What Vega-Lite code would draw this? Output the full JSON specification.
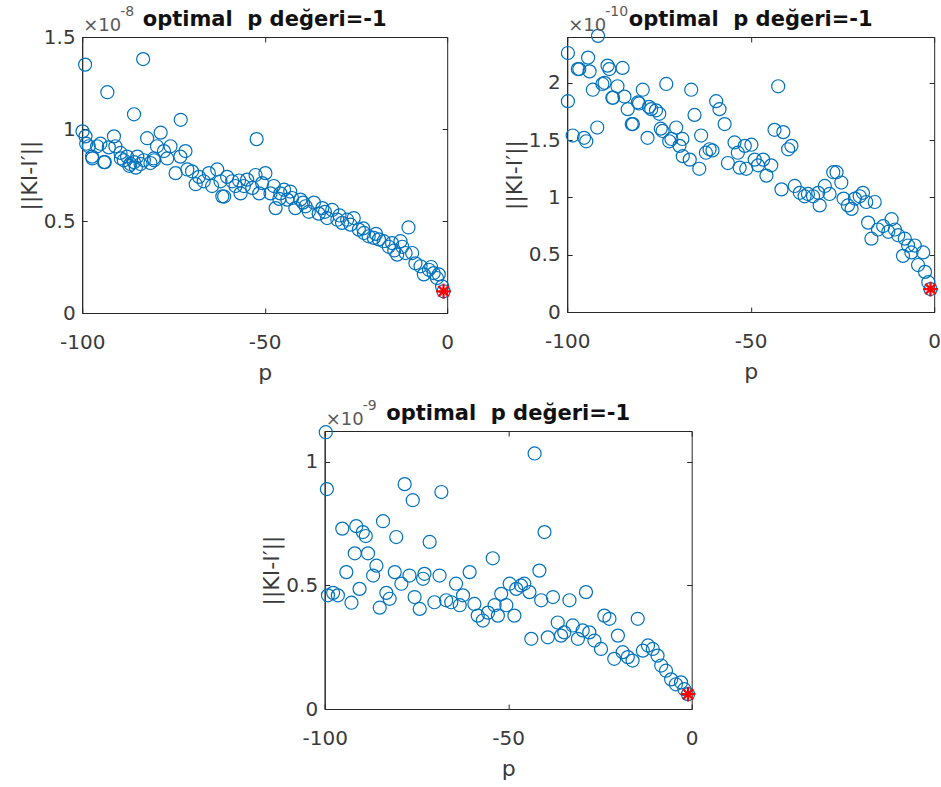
{
  "$schema": "https://vega.github.io/schema/vega-lite/v6.json",
  "background": "white",
  "padding": {"left": 17, "top": 4, "right": 4, "bottom": 0},
  "config": {
    "font": "DejaVu Sans",
    "view": {"stroke": "#262626", "strokeWidth": 1},
    "axis": {
      "grid": false,
      "domainColor": "#262626",
      "tickColor": "#262626",
      "tickSize": -5,
      "labelFlush": false,
      "labelFont": "DejaVu Sans",
      "labelFontSize": 20,
      "labelColor": "#3a3a3a",
      "labelExpr": "'' + datum.value",
      "titleFont": "DejaVu Sans",
      "titleFontSize": 22,
      "titleFontWeight": "normal",
      "titleColor": "#3a3a3a",
      "minExtent": 0
    },
    "axisX": {"labelPadding": 24, "titlePadding": 10},
    "axisY": {"labelPadding": 12, "titlePadding": 2}
  },
  "datasets": {
    "A": [
      {"p":-99.9,"v":0.987},{"p":-99.2,"v":1.35},{"p":-99.1,"v":0.96},{"p":-98.9,"v":0.92},{"p":-98.2,"v":0.906},{"p":-97.3,"v":0.85},{"p":-97.2,"v":0.84},{"p":-95.9,"v":0.906},{"p":-95,"v":0.92},{"p":-94,"v":0.82},{"p":-93.8,"v":0.82},{"p":-93.1,"v":1.2},{"p":-92.7,"v":0.9},{"p":-91.3,"v":0.96},{"p":-90.9,"v":0.906},{"p":-89.5,"v":0.87},{"p":-89.4,"v":0.84},{"p":-88.6,"v":0.83},{"p":-87.7,"v":0.85},{"p":-87.1,"v":0.8},{"p":-86.8,"v":0.81},{"p":-85.8,"v":0.82},{"p":-85.8,"v":1.08},{"p":-85.3,"v":0.79},{"p":-84.9,"v":0.85},{"p":-84,"v":0.81},{"p":-83.3,"v":1.38},{"p":-83.1,"v":0.83},{"p":-82.2,"v":0.95},{"p":-81.3,"v":0.815},{"p":-80.4,"v":0.84},{"p":-80.3,"v":0.83},{"p":-79.5,"v":0.906},{"p":-78.5,"v":0.98},{"p":-77.6,"v":0.88},{"p":-76.7,"v":0.84},{"p":-75.8,"v":0.906},{"p":-74.4,"v":0.76},{"p":-73.1,"v":0.85},{"p":-73,"v":1.05},{"p":-71.7,"v":0.88},{"p":-71.2,"v":0.78},{"p":-69.9,"v":0.77},{"p":-68.9,"v":0.7},{"p":-68,"v":0.74},{"p":-66.7,"v":0.716},{"p":-65.3,"v":0.76},{"p":-64.4,"v":0.69},{"p":-63,"v":0.78},{"p":-62.1,"v":0.716},{"p":-61.6,"v":0.634},{"p":-61.1,"v":0.633},{"p":-60.3,"v":0.74},{"p":-58.9,"v":0.716},{"p":-58,"v":0.69},{"p":-57,"v":0.72},{"p":-56.6,"v":0.65},{"p":-55.7,"v":0.69},{"p":-54.8,"v":0.725},{"p":-53.4,"v":0.68},{"p":-52.5,"v":0.75},{"p":-52.2,"v":0.945},{"p":-51.5,"v":0.65},{"p":-50.7,"v":0.706},{"p":-49.8,"v":0.76},{"p":-48.4,"v":0.65},{"p":-47.5,"v":0.69},{"p":-47,"v":0.57},{"p":-46,"v":0.62},{"p":-45.7,"v":0.65},{"p":-44.7,"v":0.67},{"p":-43.8,"v":0.616},{"p":-43,"v":0.66},{"p":-42.5,"v":0.625},{"p":-41.6,"v":0.57},{"p":-40.2,"v":0.616},{"p":-39.5,"v":0.6},{"p":-38.8,"v":0.58},{"p":-37.9,"v":0.55},{"p":-36.5,"v":0.6},{"p":-35.2,"v":0.54},{"p":-34.2,"v":0.57},{"p":-33.5,"v":0.55},{"p":-32.9,"v":0.516},{"p":-31.5,"v":0.56},{"p":-30.1,"v":0.507},{"p":-29.5,"v":0.53},{"p":-28.8,"v":0.49},{"p":-27.4,"v":0.507},{"p":-26.5,"v":0.48},{"p":-25.6,"v":0.516},{"p":-24.2,"v":0.453},{"p":-23,"v":0.46},{"p":-22.8,"v":0.435},{"p":-21.5,"v":0.417},{"p":-20.1,"v":0.408},{"p":-19.5,"v":0.43},{"p":-18.7,"v":0.4},{"p":-17.4,"v":0.39},{"p":-16,"v":0.36},{"p":-15.1,"v":0.38},{"p":-14.5,"v":0.34},{"p":-13.7,"v":0.317},{"p":-12.8,"v":0.39},{"p":-12.3,"v":0.36},{"p":-11.4,"v":0.326},{"p":-10.6,"v":0.465},{"p":-9.6,"v":0.326},{"p":-8.7,"v":0.27},{"p":-7.3,"v":0.254},{"p":-6.4,"v":0.21},{"p":-5,"v":0.235},{"p":-4.4,"v":0.25},{"p":-3.7,"v":0.217},{"p":-2.8,"v":0.19},{"p":-2.3,"v":0.21},{"p":-1.4,"v":0.145},{"p":-1,"v":0.118}
    ],
    "A_opt": [{"p":-1,"v":0.118}],
    "B": [
      {"p":-99.8,"v":2.26},{"p":-99.8,"v":1.84},{"p":-98.5,"v":1.54},{"p":-97.1,"v":2.12},{"p":-96.7,"v":2.12},{"p":-95.4,"v":1.52},{"p":-94.8,"v":1.49},{"p":-94.3,"v":2.22},{"p":-93.9,"v":2.1},{"p":-93,"v":1.94},{"p":-91.8,"v":1.61},{"p":-91.6,"v":2.41},{"p":-90.4,"v":1.99},{"p":-89.8,"v":2.0},{"p":-89,"v":2.15},{"p":-88.5,"v":2.12},{"p":-87.7,"v":1.87},{"p":-87.5,"v":1.87},{"p":-86.3,"v":1.97},{"p":-84.9,"v":2.13},{"p":-84.4,"v":1.88},{"p":-83.5,"v":1.77},{"p":-82.4,"v":1.64},{"p":-82.1,"v":1.64},{"p":-80.7,"v":1.83},{"p":-80.4,"v":1.82},{"p":-79.4,"v":1.94},{"p":-78.1,"v":1.52},{"p":-77.7,"v":1.79},{"p":-77.1,"v":1.77},{"p":-75.8,"v":1.76},{"p":-74.9,"v":1.73},{"p":-74.5,"v":1.6},{"p":-74,"v":1.58},{"p":-73,"v":1.99},{"p":-72.2,"v":1.49},{"p":-71.6,"v":1.51},{"p":-70.3,"v":1.61},{"p":-69.4,"v":1.45},{"p":-68.6,"v":1.51},{"p":-68.5,"v":1.36},{"p":-66.6,"v":1.33},{"p":-66.2,"v":1.94},{"p":-65.3,"v":1.72},{"p":-64,"v":1.25},{"p":-63.5,"v":1.54},{"p":-62.2,"v":1.39},{"p":-61.2,"v":1.42},{"p":-60.4,"v":1.41},{"p":-59.4,"v":1.84},{"p":-58.5,"v":1.77},{"p":-57.1,"v":1.64},{"p":-56.2,"v":1.3},{"p":-54.4,"v":1.48},{"p":-53.5,"v":1.39},{"p":-53,"v":1.26},{"p":-51.6,"v":1.45},{"p":-51.2,"v":1.25},{"p":-49.8,"v":1.46},{"p":-48.9,"v":1.33},{"p":-48,"v":1.28},{"p":-46.6,"v":1.33},{"p":-45.7,"v":1.19},{"p":-44.4,"v":1.28},{"p":-43.5,"v":1.59},{"p":-42.5,"v":1.97},{"p":-41.6,"v":1.07},{"p":-41.1,"v":1.57},{"p":-39.8,"v":1.42},{"p":-38.9,"v":1.45},{"p":-38,"v":1.1},{"p":-36.6,"v":1.04},{"p":-35.3,"v":1.01},{"p":-34.4,"v":1.03},{"p":-33,"v":1.01},{"p":-31.6,"v":1.04},{"p":-31.2,"v":0.93},{"p":-29.8,"v":1.1},{"p":-28.5,"v":1.03},{"p":-27.5,"v":1.22},{"p":-26.6,"v":1.22},{"p":-25.3,"v":1.13},{"p":-24.7,"v":0.99},{"p":-23.5,"v":0.93},{"p":-22.5,"v":0.9},{"p":-21.6,"v":0.99},{"p":-20.3,"v":1.01},{"p":-19.4,"v":1.04},{"p":-18.5,"v":0.96},{"p":-18,"v":0.78},{"p":-17.1,"v":0.64},{"p":-16.2,"v":0.96},{"p":-15.3,"v":0.72},{"p":-13.9,"v":0.75},{"p":-12.5,"v":0.7},{"p":-11.6,"v":0.81},{"p":-10.7,"v":0.72},{"p":-9.8,"v":0.67},{"p":-8.5,"v":0.49},{"p":-8,"v":0.64},{"p":-7.1,"v":0.58},{"p":-6.2,"v":0.52},{"p":-5.3,"v":0.58},{"p":-4.4,"v":0.41},{"p":-3,"v":0.52},{"p":-2.5,"v":0.35},{"p":-1.6,"v":0.26},{"p":-1,"v":0.2}
    ],
    "B_opt": [{"p":-1,"v":0.2}],
    "C": [
      {"p":-99.7,"v":1.12},{"p":-99.4,"v":0.89},{"p":-99.1,"v":0.46},{"p":-97.7,"v":0.47},{"p":-96.4,"v":0.46},{"p":-95.2,"v":0.73},{"p":-94.1,"v":0.554},{"p":-92.7,"v":0.43},{"p":-91.8,"v":0.63},{"p":-91.4,"v":0.74},{"p":-90.5,"v":0.486},{"p":-89.6,"v":0.716},{"p":-88.8,"v":0.7},{"p":-88.2,"v":0.63},{"p":-86.8,"v":0.54},{"p":-85.9,"v":0.58},{"p":-85,"v":0.41},{"p":-84.1,"v":0.76},{"p":-83.2,"v":0.47},{"p":-82.3,"v":0.446},{"p":-80.9,"v":0.554},{"p":-80.5,"v":0.696},{"p":-79.1,"v":0.507},{"p":-78.2,"v":0.91},{"p":-76.9,"v":0.54},{"p":-76,"v":0.845},{"p":-75.5,"v":0.453},{"p":-74.1,"v":0.405},{"p":-73.2,"v":0.527},{"p":-72.8,"v":0.547},{"p":-71.4,"v":0.676},{"p":-70.1,"v":0.432},{"p":-68.7,"v":0.54},{"p":-68.2,"v":0.878},{"p":-66.9,"v":0.44},{"p":-65.5,"v":0.432},{"p":-64.2,"v":0.507},{"p":-63.2,"v":0.42},{"p":-62.3,"v":0.46},{"p":-60.5,"v":0.554},{"p":-59.2,"v":0.425},{"p":-58.3,"v":0.378},{"p":-56.9,"v":0.358},{"p":-55.5,"v":0.39},{"p":-54.2,"v":0.61},{"p":-53.7,"v":0.42},{"p":-52.8,"v":0.378},{"p":-51.9,"v":0.466},{"p":-50.5,"v":0.42},{"p":-49.6,"v":0.507},{"p":-48.3,"v":0.378},{"p":-47.8,"v":0.486},{"p":-46.5,"v":0.5},{"p":-45.6,"v":0.507},{"p":-44.2,"v":0.473},{"p":-43.7,"v":0.284},{"p":-42.8,"v":1.034},{"p":-41.5,"v":0.56},{"p":-41,"v":0.44},{"p":-40.1,"v":0.716},{"p":-39.2,"v":0.29},{"p":-37.8,"v":0.453},{"p":-36.5,"v":0.35},{"p":-35.6,"v":0.297},{"p":-34.7,"v":0.31},{"p":-33.3,"v":0.44},{"p":-32.4,"v":0.338},{"p":-31,"v":0.284},{"p":-29.7,"v":0.318},{"p":-28.8,"v":0.473},{"p":-27.9,"v":0.31},{"p":-26.5,"v":0.277},{"p":-24.7,"v":0.243},{"p":-23.8,"v":0.378},{"p":-22.4,"v":0.365},{"p":-21.1,"v":0.203},{"p":-20.1,"v":0.297},{"p":-18.8,"v":0.23},{"p":-17.4,"v":0.21},{"p":-16.1,"v":0.196},{"p":-14.7,"v":0.365},{"p":-13.3,"v":0.236},{"p":-11.9,"v":0.257},{"p":-10.6,"v":0.243},{"p":-9.3,"v":0.216},{"p":-8.3,"v":0.176},{"p":-7,"v":0.155},{"p":-5.6,"v":0.12},{"p":-4.3,"v":0.1},{"p":-2.9,"v":0.108},{"p":-2,"v":0.08},{"p":-1,"v":0.06}
    ],
    "C_opt": [{"p":-1,"v":0.06}],
    "labA": [{"title":"optimal\u00a0 p değeri=-1","base":"×10","exp":"-8"}],
    "labB": [{"title":"optimal\u00a0 p değeri=-1","base":"×10","exp":"-10"}],
    "labC": [{"title":"optimal\u00a0 p değeri=-1","base":"×10","exp":"-9"}]
  },
  "spacing": 14,
  "center": true,
  "vconcat": [
    {
      "spacing": 46,
      "hconcat": [
        {
          "width": 365, "height": 276,
          "resolve": {"axis": {"x": "independent", "y": "independent"}},
          "layer": [
            {
              "data": {"name": "A"},
              "mark": {"type": "point", "shape": "circle", "filled": false, "color": "#0072BD", "size": 170, "strokeWidth": 1.2, "opacity": 1},
              "encoding": {
                "x": {"field": "p", "type": "quantitative", "scale": {"domain": [-100, 0], "nice": false, "zero": false}, "axis": {"values": [-100, -50, 0], "title": "p"}},
                "y": {"field": "v", "type": "quantitative", "scale": {"domain": [0, 1.5], "nice": false, "zero": false}, "axis": {"values": [0, 0.5, 1, 1.5], "title": "||KI-I′||"}}
              }
            },
            {
              "data": {"name": "A_opt"},
              "mark": {"type": "point", "shape": "M-1,0L1,0M0,-1L0,1M-0.7,-0.7L0.7,0.7M-0.7,0.7L0.7,-0.7", "filled": false, "color": "#FF0000", "size": 220, "strokeWidth": 2.2, "opacity": 1},
              "encoding": {
                "x": {"field": "p", "type": "quantitative", "axis": {"orient": "top", "values": [-100, -50, 0], "labels": false, "domain": false, "title": null}},
                "y": {"field": "v", "type": "quantitative", "axis": {"orient": "right", "values": [0, 0.5, 1, 1.5], "labels": false, "domain": false, "title": null}}
              }
            },
            {
              "data": {"name": "labA"},
              "mark": {"type": "text", "align": "center", "baseline": "alphabetic", "fontSize": 21, "fontWeight": "bold", "color": "#111111", "dy": -11},
              "encoding": {"x": {"datum": -50, "axis": null}, "y": {"datum": 1.5, "axis": null}, "text": {"field": "title"}}
            },
            {
              "data": {"name": "labA"},
              "mark": {"type": "text", "align": "left", "baseline": "alphabetic", "fontSize": 18, "color": "#5a5a5a", "dx": 1, "dy": -6},
              "encoding": {"x": {"datum": -100, "axis": null}, "y": {"datum": 1.5, "axis": null}, "text": {"field": "base"}}
            },
            {
              "data": {"name": "labA"},
              "mark": {"type": "text", "align": "left", "baseline": "alphabetic", "fontSize": 14, "color": "#5a5a5a", "dx": 38, "dy": -21},
              "encoding": {"x": {"datum": -100, "axis": null}, "y": {"datum": 1.5, "axis": null}, "text": {"field": "exp"}}
            }
          ]
        },
        {
          "width": 367, "height": 275,
          "resolve": {"axis": {"x": "independent", "y": "independent"}},
          "layer": [
            {
              "data": {"name": "B"},
              "mark": {"type": "point", "shape": "circle", "filled": false, "color": "#0072BD", "size": 170, "strokeWidth": 1.2, "opacity": 1},
              "encoding": {
                "x": {"field": "p", "type": "quantitative", "scale": {"domain": [-100, 0], "nice": false, "zero": false}, "axis": {"values": [-100, -50, 0], "title": "p"}},
                "y": {"field": "v", "type": "quantitative", "scale": {"domain": [0, 2.4], "nice": false, "zero": false}, "axis": {"values": [0, 0.5, 1, 1.5, 2], "title": "||KI-I′||"}}
              }
            },
            {
              "data": {"name": "B_opt"},
              "mark": {"type": "point", "shape": "M-1,0L1,0M0,-1L0,1M-0.7,-0.7L0.7,0.7M-0.7,0.7L0.7,-0.7", "filled": false, "color": "#FF0000", "size": 220, "strokeWidth": 2.2, "opacity": 1},
              "encoding": {
                "x": {"field": "p", "type": "quantitative", "axis": {"orient": "top", "values": [-100, -50, 0], "labels": false, "domain": false, "title": null}},
                "y": {"field": "v", "type": "quantitative", "axis": {"orient": "right", "values": [0, 0.5, 1, 1.5, 2], "labels": false, "domain": false, "title": null}}
              }
            },
            {
              "data": {"name": "labB"},
              "mark": {"type": "text", "align": "center", "baseline": "alphabetic", "fontSize": 21, "fontWeight": "bold", "color": "#111111", "dy": -11},
              "encoding": {"x": {"datum": -50, "axis": null}, "y": {"datum": 2.4, "axis": null}, "text": {"field": "title"}}
            },
            {
              "data": {"name": "labB"},
              "mark": {"type": "text", "align": "left", "baseline": "alphabetic", "fontSize": 18, "color": "#5a5a5a", "dx": 1, "dy": -6},
              "encoding": {"x": {"datum": -100, "axis": null}, "y": {"datum": 2.4, "axis": null}, "text": {"field": "base"}}
            },
            {
              "data": {"name": "labB"},
              "mark": {"type": "text", "align": "left", "baseline": "alphabetic", "fontSize": 14, "color": "#5a5a5a", "dx": 38, "dy": -21},
              "encoding": {"x": {"datum": -100, "axis": null}, "y": {"datum": 2.4, "axis": null}, "text": {"field": "exp"}}
            }
          ]
        }
      ]
    },
    {
      "width": 367, "height": 278,
      "resolve": {"axis": {"x": "independent", "y": "independent"}},
      "layer": [
        {
          "data": {"name": "C"},
          "mark": {"type": "point", "shape": "circle", "filled": false, "color": "#0072BD", "size": 170, "strokeWidth": 1.2, "opacity": 1},
          "encoding": {
            "x": {"field": "p", "type": "quantitative", "scale": {"domain": [-100, 0], "nice": false, "zero": false}, "axis": {"values": [-100, -50, 0], "title": "p"}},
            "y": {"field": "v", "type": "quantitative", "scale": {"domain": [0, 1.125], "nice": false, "zero": false}, "axis": {"values": [0, 0.5, 1], "title": "||KI-I′||"}}
          }
        },
        {
          "data": {"name": "C_opt"},
          "mark": {"type": "point", "shape": "M-1,0L1,0M0,-1L0,1M-0.7,-0.7L0.7,0.7M-0.7,0.7L0.7,-0.7", "filled": false, "color": "#FF0000", "size": 220, "strokeWidth": 2.2, "opacity": 1},
          "encoding": {
            "x": {"field": "p", "type": "quantitative", "axis": {"orient": "top", "values": [-100, -50, 0], "labels": false, "domain": false, "title": null}},
            "y": {"field": "v", "type": "quantitative", "axis": {"orient": "right", "values": [0, 0.5, 1], "labels": false, "domain": false, "title": null}}
          }
        },
        {
          "data": {"name": "labC"},
          "mark": {"type": "text", "align": "center", "baseline": "alphabetic", "fontSize": 21, "fontWeight": "bold", "color": "#111111", "dy": -11},
          "encoding": {"x": {"datum": -50, "axis": null}, "y": {"datum": 1.125, "axis": null}, "text": {"field": "title"}}
        },
        {
          "data": {"name": "labC"},
          "mark": {"type": "text", "align": "left", "baseline": "alphabetic", "fontSize": 18, "color": "#5a5a5a", "dx": 1, "dy": -6},
          "encoding": {"x": {"datum": -100, "axis": null}, "y": {"datum": 1.125, "axis": null}, "text": {"field": "base"}}
        },
        {
          "data": {"name": "labC"},
          "mark": {"type": "text", "align": "left", "baseline": "alphabetic", "fontSize": 14, "color": "#5a5a5a", "dx": 38, "dy": -21},
          "encoding": {"x": {"datum": -100, "axis": null}, "y": {"datum": 1.125, "axis": null}, "text": {"field": "exp"}}
        }
      ]
    }
  ]
}
